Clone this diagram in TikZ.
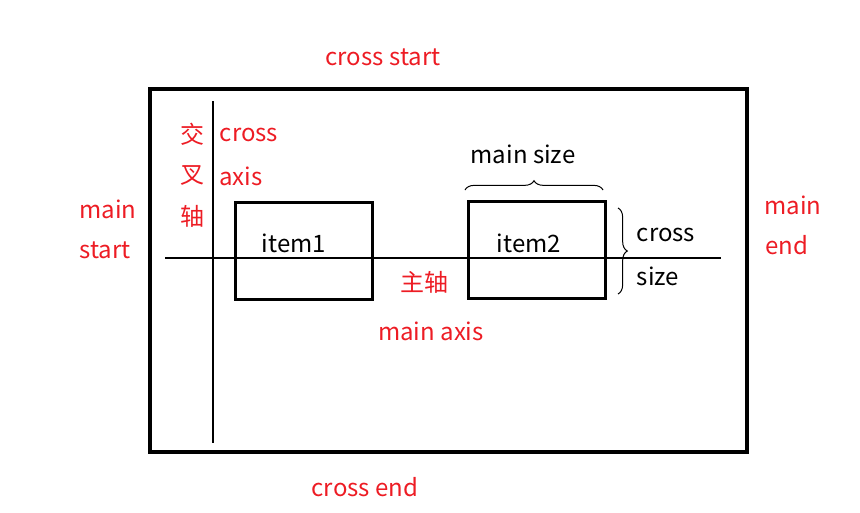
\documentclass[tikz,border=0pt]{standalone}
\usepackage{fontspec}
\setmainfont{Noto Sans CJK SC}
\usetikzlibrary{decorations.pathreplacing}
\definecolor{paintred}{RGB}{237,28,36}

\begin{document}
\begin{tikzpicture}[x=0.75pt,y=-0.75pt,font=\fontsize{18}{20}\selectfont]
    \useasboundingbox (0,0) rectangle (860,512);
    \tikzset{redtext/.style={text=paintred,inner sep=0pt}}
    \tikzset{blacktext/.style={text=black,inner sep=0pt}}
    \tikzset{itembox/.style={draw,line width=2.25pt,minimum width=102.75pt,minimum height=72.75pt,inner sep=0pt}}
    \tikzset{axisline/.style={line width=1.8pt}}
    \tikzset{mybrace/.style={decorate,decoration={brace,amplitude=7pt},line width=0.75pt}}

    % container
    \node[draw,line width=3pt,minimum width=447.75pt,minimum height=272.25pt,inner sep=0pt] (box) at (448.5,270.5) {};

    % axes
    \coordinate (ml) at (165,258);
    \coordinate (mr) at (721,258);
    \coordinate (ct) at (213,101);
    \coordinate (cb) at (213,443);
    \draw[axisline] (ml) -- (mr);
    \draw[axisline] (ct) -- (cb);

    % items
    \node[itembox] (item1) at (303.5,250.5) {};
    \node[itembox] (item2) at (537,249.5) {};
    \node[blacktext] (t1) at (294,243) {item1};
    \node[blacktext] (t2) at (529,243) {item2};

    % braces
    \coordinate (bl) at (465,190);
    \coordinate (br) at (603,190);
    \coordinate (rt) at (618,208);
    \coordinate (rb) at (618,294);
    \draw[mybrace] (bl) -- (br);
    \draw[mybrace] (rt) -- (rb);

    % labels
    \node[redtext] (cs) at (383,57) {cross start};
    \node[redtext] (ce) at (365,487) {cross end};
    \node[redtext] (ms1) at (108,209) {main};
    \node[redtext] (ms2) at (105,250) {start};
    \node[redtext] (me1) at (793,205) {main};
    \node[redtext] (me2) at (787,245) {end};
    \node[redtext] (c1) at (192,134) {交};
    \node[redtext] (c2) at (192,175) {叉};
    \node[redtext] (c3) at (192,216) {轴};
    \node[redtext] (ca1) at (249,135) {cross};
    \node[redtext] (ca2) at (241,176) {axis};
    \node[redtext] (zz) at (424,282) {主轴};
    \node[redtext] (ma) at (431,331) {main axis};
    \node[blacktext] (msz) at (523,154) {main size};
    \node[blacktext] (csz1) at (666,235) {cross};
    \node[blacktext] (csz2) at (658,276) {size};
\end{tikzpicture}
\end{document}
